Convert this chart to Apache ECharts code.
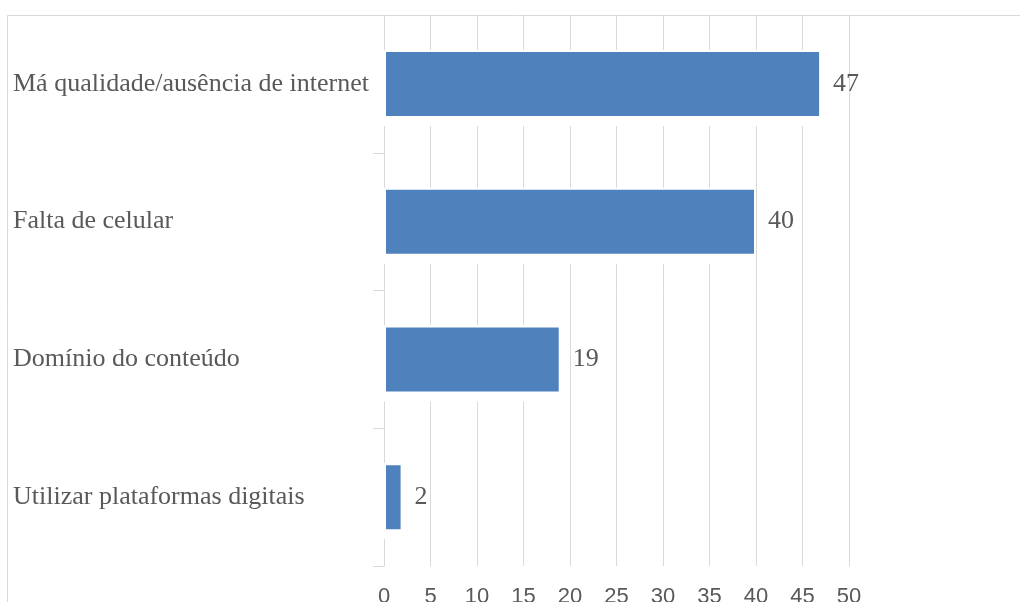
<!DOCTYPE html>
<html>
<head>
<meta charset="utf-8">
<style>
  html, body { margin: 0; padding: 0; background: #fff; }
  #chart { width: 1020px; height: 602px; }
</style>
<script src="https://cdn.jsdelivr.net/npm/echarts@6/dist/echarts.min.js"></script>
</head>
<body>
<div id="chart"></div>
<script>
// Reasons given for difficulty with remote learning (number of answers)
const categories = [
  'Má qualidade/ausência de internet',
  'Falta de celular',
  'Domínio do conteúdo',
  'Utilizar plataformas digitais'
];
const counts = [47, 40, 19, 2];
const xTicks = { min: 0, max: 50, interval: 5 };

const gray = '#595959';
const gridGray = '#d9d9d9';
const serif = '"Liberation Serif", "DejaVu Serif", serif';
const sans = '"Liberation Sans", Arial, sans-serif';

const chart = echarts.init(document.getElementById('chart'), null, { renderer: 'canvas' });

chart.setOption({
  animation: false,
  backgroundColor: '#fff',
  grid: {
    left: 384, right: 171, top: 15, bottom: 36,
    containLabel: false,
    outerBoundsMode: 'none'
  },
  graphic: [{
    type: 'rect',
    silent: true,
    z: -1,
    shape: { x: 7.5, y: 15.5, width: 1200, height: 800 },
    style: { fill: 'none', stroke: gridGray, lineWidth: 1 }
  }],
  xAxis: {
    type: 'value',
    min: xTicks.min,
    max: xTicks.max,
    interval: xTicks.interval,
    axisLine: { show: false },
    axisTick: { show: false },
    splitLine: { show: true, lineStyle: { color: gridGray, width: 1 } },
    axisLabel: { color: gray, fontFamily: sans, fontSize: 22, margin: 20 }
  },
  yAxis: {
    type: 'category',
    data: categories,
    inverse: true,
    axisLine: { show: true, lineStyle: { color: gridGray, width: 1 } },
    axisTick: { show: true, length: 11, lineStyle: { color: gridGray } },
    splitLine: { show: false },
    axisLabel: {
      color: gray,
      fontFamily: serif,
      fontSize: 26,
      align: 'left',
      margin: 371,
      padding: [3, 0, 0, 0]
    }
  },
  series: [
    {
      // white halo that cuts the gridlines around each bar
      type: 'bar',
      data: counts,
      barWidth: 76,
      silent: true,
      itemStyle: { color: '#fff' },
      label: { show: false }
    },
    {
      type: 'bar',
      data: counts,
      barWidth: 68,
      barGap: '-100%',
      itemStyle: { color: '#4f81bd', borderColor: '#fff', borderWidth: 2 },
      label: {
        show: true,
        position: 'right',
        distance: 12,
        color: gray,
        fontFamily: serif,
        fontSize: 26,
        padding: [3, 0, 0, 0]
      }
    }
  ]
});
</script>
</body>
</html>
